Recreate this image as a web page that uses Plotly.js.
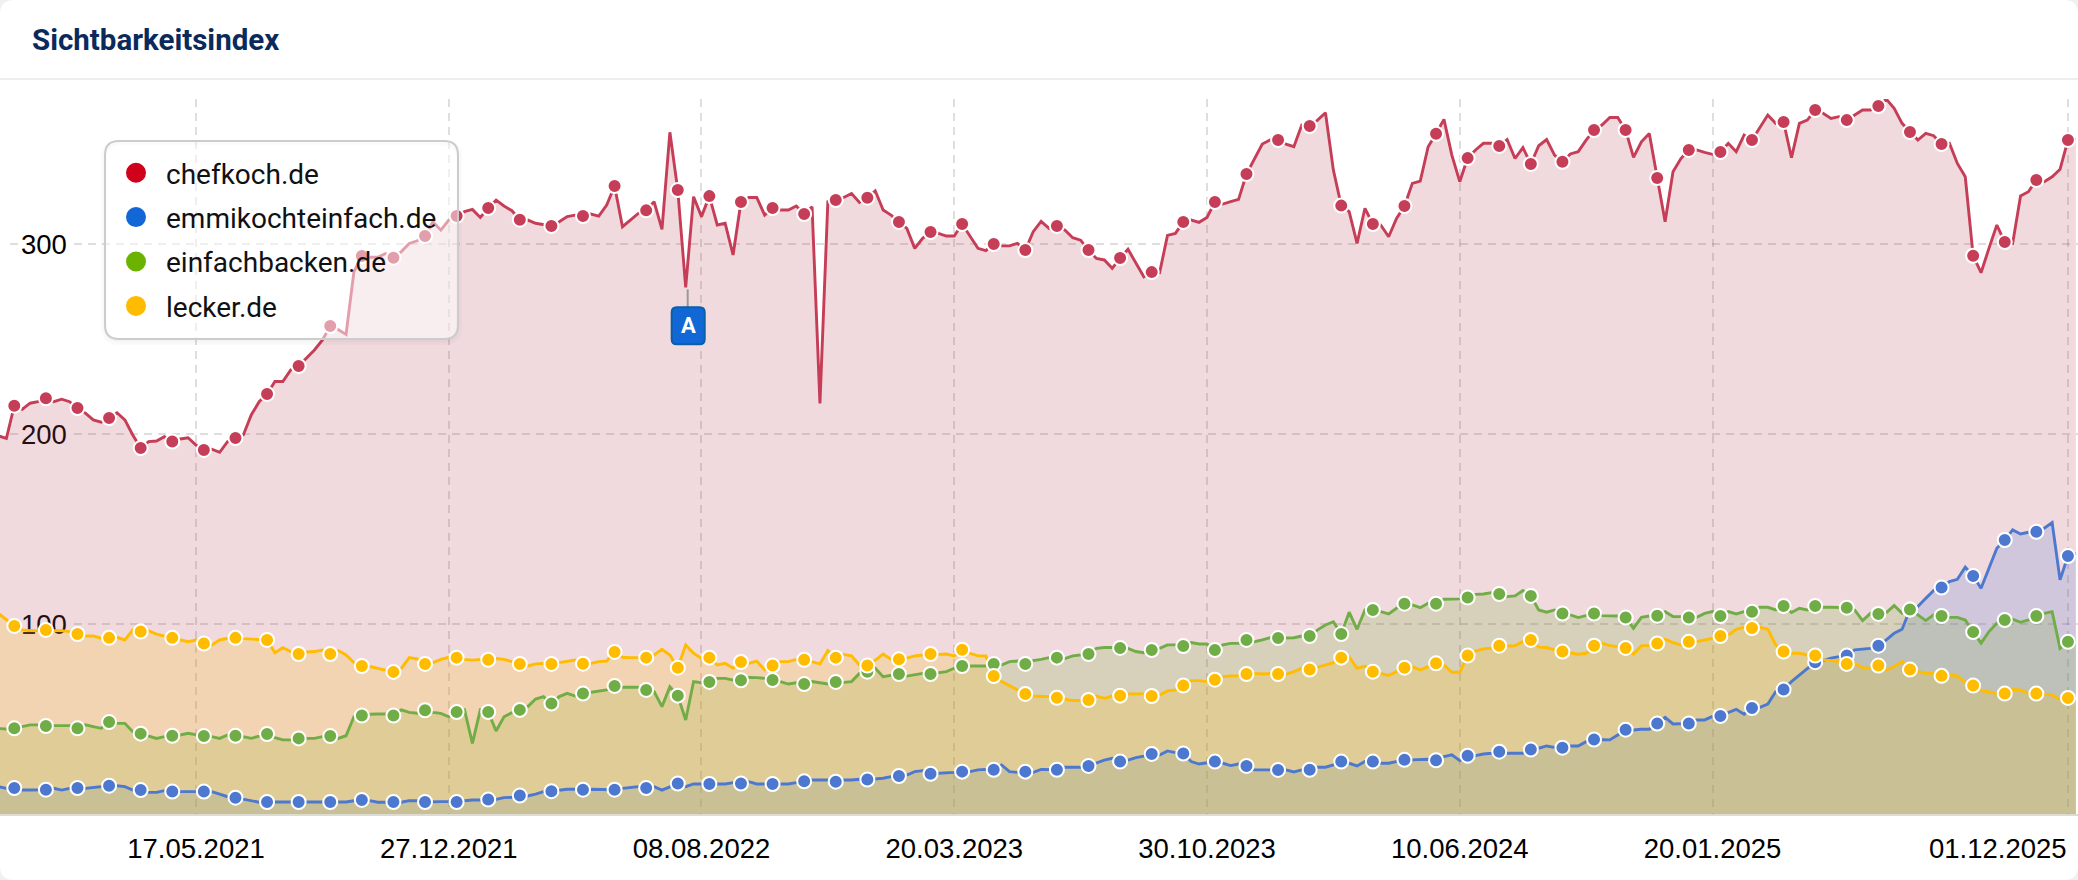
<!DOCTYPE html>
<html><head><meta charset="utf-8">
<script src="https://cdn.plot.ly/plotly-3.0.1.min.js"></script>
<style>html,body{margin:0;padding:0;background:#fff}#chart{width:2078px;height:880px}</style>
</head><body><div id="chart"></div>
<script>
const firstWeek = '2020-11-23';
const seriesNames = ['chefkoch.de','emmikochteinfach.de','einfachbacken.de','lecker.de'];
const legendColors = ['#d0021b','#1167d6','#6bb300','#ffbb00'];
const lineColors = ['#C63D58','#4C78CF','#70AD47','#FFBC00'];
const fillColors = ['rgba(185,70,90,0.2)','rgba(80,125,218,0.2)','rgba(115,170,48,0.2)','rgba(255,190,3,0.2)'];
const xTickVals = ['2021-05-17','2021-12-27','2022-08-08','2023-03-20','2023-10-30','2024-06-10','2025-01-20','2025-12-01'];
const xTickText = ['17.05.2021','27.12.2021','08.08.2022','20.03.2023','30.10.2023','10.06.2024','20.01.2025',''];
const lastTickLabel = '01.12.2025';
const yTicks = [100,200,300];

const chefkoch = [
199,197.7,214.9,213, 216.2,217,218.8,217, 218.3,217,213.7,211, 207.4,206.2,208.4,211.2,
207.4,199.5,192.6,196, 196.3,198.6,196,197.4, 198,194.2,191.6,192, 190.4,196,197.9,199.5,
210,217,221.1,227.6, 227.6,233.7,235.8,239.8, 244.2,249.4,256.8,255, 252.4,285.4,293.7,293,
293,295,292.8,296, 300.3,301.7,304.2,311.7, 307.3,312.6,314.7,317, 318.2,314,318.9,323.1,
320,317.5,312.8,312.6, 310.9,310,309.5,311.7, 314.4,315.2,314.7,315.8, 314.7,320.5,330.5,309.1,
312.6,316.1,317.7,322.3, 307.7,358.8,328.4,277.2, 324.9,314.4,325.2,310, 310.9,294.2,322.1,324.5,
324.5,315.2,318.9,317.9, 317.9,320,315.8,319.6, 216.1,322.3,323.1,324.5, 326.6,321.9,324.4,328,
317.9,315.2,311.6,308.2, 297.7,303,306.3,305.6, 304.2,304.2,310.5,303.8, 297.7,296.5,300,299,
299,300.3,296.8,306.5, 311.9,308.2,309.5,307.4, 303.3,302,296.8,292.4, 291.6,287.2,292.6,297.2,
289.8,282.8,285.2,284.9, 304.5,305.6,311.6,312.6, 311.4,314,322.1,321, 322.3,323.5,336.8,345,
352.6,354.7,354.7,352.6, 351.2,362.6,362.1,365.2, 369.1,338.9,320.2,317, 300.3,318.8,310.5,310,
303.8,313.5,320,331.9, 333.1,351.2,358,365.6, 346.8,332.8,345.2,349.5, 353,353,351.6,355,
345,350.7,342.1,351.7, 355,346.8,343.3,347.4, 348.6,354.7,360,362.6, 366.6,366.6,360,345.6,
353.8,358.2,334.7,311.7, 338,345,349.5,349.5, 348.2,347.2,348.4,353, 348.6,357.3,354.7,361.4,
367.9,363.5,364.2,345.4, 363.5,365.2,370.5,368.8, 366.1,367,365.2,367.9, 370.5,370.5,372.6,376.3,
371.4,363.5,358.9,354.7, 358.2,357,352.6,353, 342.4,335.4,293.8,284.9, 297.7,310,301,300.3,
325.3,327.5,333.7,332.8, 335.4,339.3,354.7,355];

const emmikochteinfach = [
14.4,13.5,13.7,12.6, 12.6,12.6,12.8,13.5, 12.6,13.5,13.7,13.5, 14,14.7,14.9,14.9,
14.4,12.6,12.6,11.4, 11.4,12.3,11.8,11.8, 11.8,11.8,11.8,11.8, 10.5,9.1,8.6,7.9,
7,6.2,6.3,6.3, 6.3,6.3,6.3,6.3, 6.3,6.3,6.3,6.3, 6.3,7,7.4,7,
6.2,6.2,6.3,6.2, 7,7,6.3,6.5, 6.5,6.5,6.3,7, 7.4,7.4,7.6,7.7,
8.6,8.8,9.7,9.5, 10.5,11.8,12,12.6, 13,13,12.8,13, 13,13,12.8,13.5,
13.9,14.4,13.7,14.4, 12.6,14.4,16,14.4, 15.8,15.8,15.8,15.8, 15.8,16.5,16,17,
15.8,15.8,15.8,15.8, 15.8,16.5,17.2,17.9, 17.9,17.9,17,17.9, 17.9,18.3,18.1,18.3,
18.8,19.7,20,20.5, 22.3,22.8,21.2,21.4, 21.4,21.9,22.3,22.3, 23.2,23.5,23.3,25.8,
22.3,21.9,22.3,21.9, 23.5,23.5,23.3,24.6, 24.6,24.6,25.3,26.7, 28.4,29.3,27.6,28.4,
29.7,30.5,31.6,31, 33.2,32.3,31.8,27.6, 26.3,27,27.6,26.7, 25.5,26.3,25.3,23.2,
23.2,23.2,23.2,23.2, 22.1,23.2,23.3,24.6, 24.6,25.8,27.6,26.7, 25.3,27.6,27.6,26.7,
26.7,27.6,28.5,28.5, 28.8,28.8,28.3,30.2, 31.1,28.1,30.7,30.7, 31.6,32,32.8,32,
32,32,33.9,34.6, 35.8,35.1,34.9,35.8, 35.8,38.1,39.2,39, 39,41.6,44.4,44.2,
44.6,44.6,47.6,50.9, 47.4,47.4,47.6,49.5, 49.5,51.3,51.6,53.4, 55.1,52.5,55.8,56.2,
57.9,64.4,65.5,69.7, 73.2,76.7,79.9,80.7, 82,82.8,83.4,86.4, 86.9,87.2,88.6,91.6,
95.1,97.2,107.6,109.2, 113.5,117.6,119.2,122.3, 123.5,129.9,125.3,118.8, 129.3,139.9,144.2,149.5,
147.4,148.3,148.5,150.4, 153.4,123.2,135.8,137.2];

const einfachbacken = [
45,44.7,45.1,46, 46.9,46.9,46.3,46.5, 46.5,46.5,45.1,46.9, 46,45.1,48.4,47.7,
47.7,43.3,42.3,41.2, 39.8,40.7,41.2,41.6, 42.5,41.6,41,40.7, 39.8,41.6,41.2,40.7,
39.8,41,42.1,40.2, 39,39,39.8,39.8, 39.8,40.7,41,39.8, 41.2,51.2,51.8,52.5,
52.6,52.6,51.8,54.8, 53.5,53,54.6,53.5, 53,51.2,53.7,54.8, 37.2,54.8,53.7,43.7,
51.2,53.3,54.8,56.5, 60.5,61.8,58.1,61.8, 63.5,62.1,63.4,64, 64.4,65.3,67.4,66.7,
66.7,66.7,65.3,64.4, 56.5,67,62.3,49.5, 69.7,69.1,69.5,71.4, 71.4,70.5,70.4,71.9,
71.8,71.4,70.5,69.7, 68.4,69.1,68.4,69.7, 69.1,68.4,69.5,69.3, 69.7,74,74.9,76.7,
72.3,73.2,73.7,72.6, 73.2,74,73.7,74.4, 74.9,76.7,77.9,77.9, 77.9,77.9,79,78.4,
80.2,80.5,79,80.7, 81.4,82.3,82.3,81.8, 83.2,83.7,84.2,87.2, 87.6,87.6,87.4,87.2,
85.5,84.9,86.3,87.2, 89,89,88.4,90.2, 89.5,89.5,86.3,89, 89.8,89.8,91.6,90.7,
91.6,92.8,92.6,92.6, 92.8,93.7,93.7,96.9, 99.5,101.2,94.7,106.2, 97.2,107.4,107.4,106.5,
105.3,108.3,110.7,110, 108.6,110.9,110.7,113, 113,113.2,113.9,115.6, 115.8,116.5,115.8,114.4,
114.8,117.6,114.8,107.4, 106.2,107.4,105.5,104.8, 103.4,104.4,105.5,104.4, 104.2,104.2,103.4,97.8,
103.5,104.2,104.4,106.5, 103.9,103.9,103.4,103.5, 105.6,106.5,104.2,106.5, 105.3,106.5,106.4,108.8,
108.8,107.4,109.5,106, 108.3,107.4,109.5,108.8, 108.8,108.8,108.6,107.4, 101.8,105.6,105.3,106,
109.7,105.6,107.6,104.8, 101.8,104.8,104.2,103.5, 103.5,102.1,95.8,89.9, 96,100.4,102.1,102.5,
100.9,102.1,104.2,105.6, 106.5,87.2,90.6,91.6];

const lecker = [
105.6,102.5,99,96.9, 96.5,96.5,96.9,96.5, 96.5,96,94.7,93.7, 93.7,92.5,92.7,93,
91.6,96.9,96,96.5, 94.7,93.7,92.7,91.9, 90.7,91.6,89.7,89, 91.6,92.5,92.7,92.3,
92,92,91.6,84.9, 87.6,85.5,84.2,85.3, 85.5,86.3,84.2,86, 83.7,79.7,77.9,77.6,
76.7,75.8,74.8,76.7, 82.3,81.6,79,79.7, 81.4,82.5,82.3,81.4, 81,81.4,81.2,81.8,
81.4,80.2,79,77.9, 79,79.3,79,79.7, 80.5,81,79.1,79.3, 80.2,80.5,85.3,82.5,
82.3,82.3,82.3,83.7, 86.7,83.7,77,89, 84.6,82,82.3,78.4, 79.3,76.7,80,79.3,
80.5,75.8,78.1,80.2, 80.2,81.4,81.2,80.2, 79,86,82.3,84, 83.2,78.4,78.1,81,
84.2,81.4,81.4,82, 83.2,83.7,84.2,84, 84.2,83.2,86.5,84.6, 83.2,83.2,72.6,69.7,
67.4,65.3,63.2,62.1, 62.1,61.8,61.2,60.4, 59.7,59.7,60,62.1, 60.9,62.1,62.3,63.2,
63.2,63.2,62.1,62.6, 64.8,65.3,67.6,70.2, 70.2,69.7,70.7,72.3, 72.6,72.8,73.7,74,
73.7,74,73.7,73.5, 74.9,76.7,76,77.2, 78.4,79.7,82.3,82.8, 76.7,77.9,74.9,74,
72.9,75,77,77.6, 75.8,77.6,79.3,78.4, 74.6,74.6,83.4,85.8, 86.9,87.2,88.6,88.5,
88.6,90.7,91.6,87.8, 87.6,86.4,85.5,84.6, 84.1,84.6,88.6,89.9, 88.6,88.1,87.4,84.2,
88.6,88.6,89.7,92, 90.2,89,90.6,90.7, 91.6,92.8,93.7,94.2, 97.2,98.3,97.9,98.3,
97.2,89,85.5,84.6, 84.6,83.7,83.4,81.1, 80.7,80.2,79,79.3, 77,76.7,78.1,75.8,
77.6,80.2,76,75, 74,74,72.7,73.2, 72.7,69.2,67.6,65, 64.4,63.5,63.4,65.6,
65.3,63.5,63.4,63, 62.7,60.4,61.1,61.4];

const seriesValues = [chefkoch, emmikochteinfach, einfachbacken, lecker];
const weeks = chefkoch.map((_, i) => {
  const d = new Date(firstWeek + 'T00:00:00Z');
  d.setUTCDate(d.getUTCDate() + 7 * i);
  return d.toISOString().slice(0, 10);
});
const isMarked = i => i % 4 === 2;

const PLOT_TOP = 99, PLOT_BOTTOM = 814;
const W = 2078, H = 880;
const uiFont = 'Roboto, sans-serif';
const axisFont = '"Liberation Sans", Arial, sans-serif';

const traces = [];
seriesNames.forEach((n, s) => traces.push({
  x: weeks, y: seriesValues[s], type: 'scatter', mode: 'none', fill: 'tozeroy',
  fillcolor: fillColors[s], showlegend: false, hoverinfo: 'skip'
}));
seriesNames.forEach((n, s) => traces.push({
  x: weeks, y: seriesValues[s], type: 'scatter', mode: 'lines', name: n,
  line: {color: lineColors[s], width: 2.9, shape: 'linear'}, showlegend: false, cliponaxis: false
}));
seriesNames.forEach((n, s) => traces.push({
  x: weeks.filter((_, i) => isMarked(i)), y: seriesValues[s].filter((_, i) => isMarked(i)),
  type: 'scatter', mode: 'markers', name: n, showlegend: false, cliponaxis: false,
  marker: {color: lineColors[s], size: 14, line: {color: '#fff', width: 2}}
}));
seriesNames.forEach((n, s) => traces.push({
  x: [null], y: [null], type: 'scatter', mode: 'markers', name: n, legendgroup: n,
  marker: {color: legendColors[s], size: 16, line: {color: legendColors[s], width: 4}}
}));

// rounded rectangle in pixels, y measured downward from the anchor
function rounded(x0, y0, x1, y1, r) {
  const Y = v => -v;
  return `M${x0 + r},${Y(y0)} L${x1 - r},${Y(y0)} Q${x1},${Y(y0)} ${x1},${Y(y0 + r)} ` +
    `L${x1},${Y(y1 - r)} Q${x1},${Y(y1)} ${x1 - r},${Y(y1)} L${x0 + r},${Y(y1)} ` +
    `Q${x0},${Y(y1)} ${x0},${Y(y1 - r)} L${x0},${Y(y0 + r)} Q${x0},${Y(y0)} ${x0 + r},${Y(y0)} Z`;
}
const pagePx = {xref: 'paper', yref: 'paper', xsizemode: 'pixel', ysizemode: 'pixel', xanchor: 0, yanchor: 1 + PLOT_TOP / (PLOT_BOTTOM - PLOT_TOP)};
const panel = (x0, y0, x1, y1, r, line, fill) => Object.assign({}, pagePx, {
  type: 'path', layer: 'above', path: rounded(x0, y0, x1, y1, r), line, fillcolor: fill
});
function corner(cx, cy, sx, sy, r) {
  const p = `M${cx},${-cy} L${cx + sx * r},${-cy} Q${cx},${-cy} ${cx},${-(cy + sy * r)} Z`;
  return Object.assign({}, pagePx, {type: 'path', layer: 'above', path: p, line: {width: 0}, fillcolor: '#f0f0f0'});
}

const gridLine = {color: 'rgba(0,0,0,0.13)', width: 2, dash: '8px,6px'};
const shapes = [];
yTicks.forEach(v => {
  shapes.push({type: 'line', layer: 'below', xref: 'paper', yref: 'y', x0: 74 / W, x1: 1, y0: v, y1: v, line: gridLine});
  shapes.push({type: 'line', layer: 'below', xref: 'paper', yref: 'y', x0: 10 / W, x1: 18 / W, y0: v, y1: v, line: {color: gridLine.color, width: 2}});
});
shapes.push(Object.assign({}, pagePx, {type: 'line', x0: 0, x1: W, y0: -79, y1: -79, line: {color: '#eeeeee', width: 2}}));
[3, 6].forEach((g, k) => shapes.push(panel(105 - k, 141 + 2, 458 + k, 339 + 2 + k, 16, {color: 'rgba(0,0,0,0.02)', width: g}, 'rgba(0,0,0,0)')));
shapes.push(panel(105, 141, 458, 339, 14, {color: '#cccccc', width: 2}, 'rgba(255,255,255,0.5)'));

// annotation flag "A", anchored on the dip of the chefkoch line
const flagDate = '2022-07-25', flagValue = 277.2;
const flagAnchor = {xref: 'x', yref: 'y', xsizemode: 'pixel', ysizemode: 'pixel', xanchor: flagDate, yanchor: flagValue};
shapes.push(Object.assign({}, flagAnchor, {type: 'line', layer: 'above', x0: 2, x1: 2, y0: -2, y1: -20, line: {color: '#999999', width: 2}}));
shapes.push(Object.assign({}, flagAnchor, {type: 'path', layer: 'above', path: rounded(-14, 20, 19, 57, 5), line: {color: '#0a5fa8', width: 2}, fillcolor: '#1167d6'}));

[[0, 0, 1, 1], [W, 0, -1, 1], [0, H, 1, -1], [W, H, -1, -1]].forEach(c => shapes.push(corner(c[0], c[1], c[2], c[3], 14)));

const layout = {
  width: W, height: H,
  margin: {l: 0, r: 0, t: PLOT_TOP, b: H - PLOT_BOTTOM, pad: 0},
  paper_bgcolor: '#fff', plot_bgcolor: '#fff',
  title: {text: 'Sichtbarkeitsindex', x: 32 / W, xanchor: 'left', xref: 'paper', y: 1 - 40 / H, yanchor: 'middle',
          font: {family: uiFont, size: 29.5, weight: 700, color: '#0b2a5c'}},
  xaxis: {type: 'date', range: ['2020-11-24 08:00', '2025-12-09 22:00'], tickmode: 'array', tickvals: xTickVals, ticktext: xTickText,
          showgrid: true, gridcolor: gridLine.color, gridwidth: 2, griddash: '8px,6px', zeroline: false,
          showline: true, linecolor: '#dcdcd2', linewidth: 2, ticks: '', ticklabelstandoff: 9,
          tickfont: {family: axisFont, size: 27.5, color: '#000'}, fixedrange: true},
  yaxis: {range: [0, (PLOT_BOTTOM - PLOT_TOP) / 1.9], tickmode: 'array', tickvals: yTicks, ticktext: yTicks.map(String),
          showgrid: false, zeroline: false, showline: false, ticks: '', ticklabelposition: 'inside', ticklabelstandoff: 18, layer: 'below traces',
          tickfont: {family: axisFont, size: 27.5, color: '#000'}, fixedrange: true},
  showlegend: true,
  legend: {x: 106 / W, xanchor: 'left', y: 1 - (148 - PLOT_TOP) / (PLOT_BOTTOM - PLOT_TOP), yanchor: 'top',
           bgcolor: 'rgba(0,0,0,0)', borderwidth: 0, itemsizing: 'trace', itemwidth: 50, tracegroupgap: 5, traceorder: 'grouped',
           font: {family: uiFont, size: 28, color: '#111'}},
  shapes,
  annotations: [
    {xref: 'x', yref: 'paper', x: xTickVals[7], y: 0, yanchor: 'top', xanchor: 'right', yshift: -17, xshift: 1, showarrow: false,
     text: lastTickLabel, font: {family: axisFont, size: 27.5, color: '#000'}},
    {xref: 'x', yref: 'y', x: flagDate, y: flagValue, xshift: 2.5, yshift: -38.5, showarrow: false, text: 'A',
     font: {family: uiFont, size: 22, weight: 700, color: '#fff'}}
  ]
};
Plotly.newPlot('chart', traces, layout, {displayModeBar: false, responsive: false});
</script></body></html>
